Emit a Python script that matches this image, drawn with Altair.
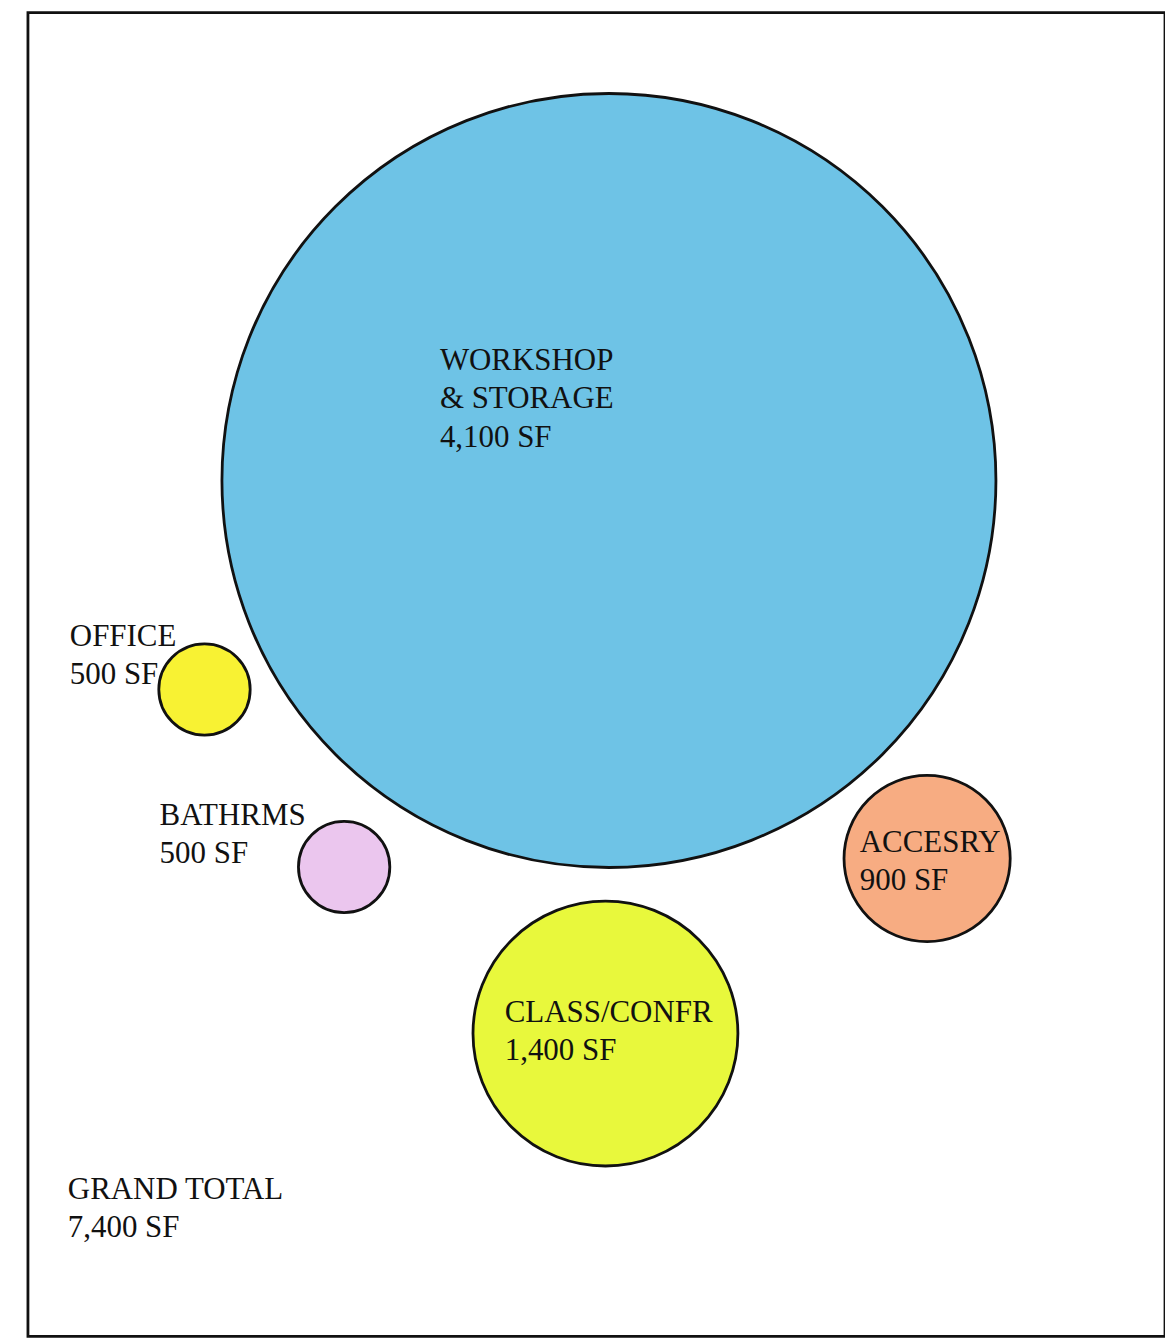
import altair as alt
import pandas as pd

# Program spaces (bubble diagram)
spaces = ["WORKSHOP\n& STORAGE", "OFFICE", "BATHRMS", "ACCESRY", "CLASS/CONFR"]
areas_sf = [4100, 500, 500, 900, 1400]
colors = ["#6ec3e6", "#f8f233", "#ebc6ee", "#f7ac82", "#e8f83c"]

# bubble layout (diagram units)
cx = [582.5, 177, 317, 901.5, 579]
cy = [469, 678.5, 856.5, 848, 1023.5]

# label layout (diagram units)
lx = [413, 42, 132, 834, 478]
ly = [358, 635, 814, 841, 1012]

total_label = "GRAND TOTAL"
total_sf = 7400
total_x = [40]
total_y = [1189]

W, H = 1140, 1327

labels = [f"{s}\n{a:,} SF" for s, a in zip(spaces, areas_sf)]
bubbles = pd.DataFrame({"space": spaces, "sf": areas_sf, "color": colors,
                        "cx": cx, "cy": cy})
texts = pd.DataFrame({"label": labels + [f"{total_label}\n{total_sf:,} SF"],
                      "lx": lx + total_x, "ly": ly + total_y})

xs = alt.Scale(domain=[0, W], nice=False, zero=False)
ys = alt.Scale(domain=[H, 0], nice=False, zero=False)

circles = alt.Chart(bubbles).mark_circle(
    opacity=1, stroke="#111111", strokeWidth=2.8
).encode(
    x=alt.X("cx:Q", scale=xs, axis=None),
    y=alt.Y("cy:Q", scale=ys, axis=None),
    size=alt.Size("sf:Q", legend=None,
                  scale=alt.Scale(domain=[500, 900, 1400, 4100],
                                  range=[8390, 27760, 70540, 602200])),
    color=alt.Color("color:N", scale=None),
)

text = alt.Chart(texts).mark_text(
    align="left", baseline="alphabetic", font="Liberation Serif",
    fontSize=31, lineHeight=38.5, color="#111111", lineBreak="\n"
).encode(
    x=alt.X("lx:Q", scale=xs, axis=None),
    y=alt.Y("ly:Q", scale=ys, axis=None),
    text="label:N",
)

chart = alt.layer(circles, text).properties(
    width=W, height=H,
    padding={"left": 20, "top": 3, "right": 0, "bottom": 2},
    background="white",
).configure_view(stroke="#111111", strokeWidth=2.8)

chart.save("out.html", embed_options={"renderer": "svg", "actions": False})
